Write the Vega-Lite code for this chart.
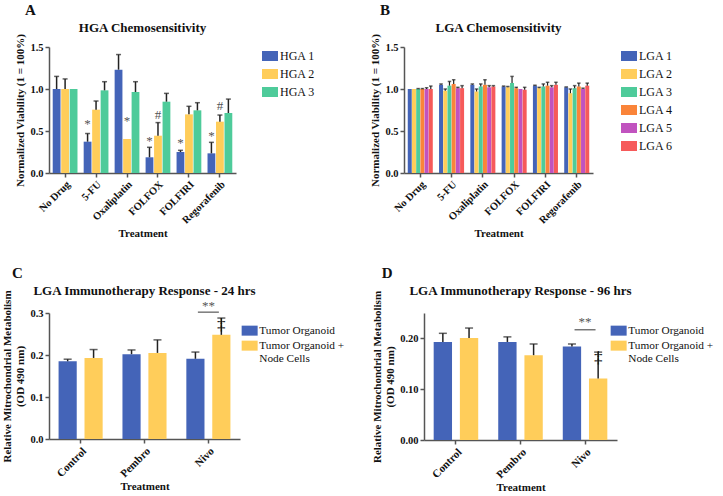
{
  "$schema": "https://vega.github.io/schema/vega-lite/v6.json",
  "padding": {"left": 1, "top": 3, "right": 0, "bottom": 0},
  "background": "white",
  "columns": 1,
  "align": "none",
  "resolve": {"scale": {"x": "independent", "y": "independent", "xOffset": "independent", "color": "independent"}, "legend": {"color": "independent"}},
  "datasets": {
    "hga": [
      {"treatment": "No Drug", "line": "HGA 1", "value": 1.0, "upper": 1.15},
      {"treatment": "No Drug", "line": "HGA 2", "value": 1.0, "upper": 1.12},
      {"treatment": "No Drug", "line": "HGA 3", "value": 1.0, "upper": 1.0},
      {"treatment": "5-FU", "line": "HGA 1", "value": 0.373, "upper": 0.47},
      {"treatment": "5-FU", "line": "HGA 2", "value": 0.754, "upper": 0.857},
      {"treatment": "5-FU", "line": "HGA 3", "value": 0.984, "upper": 1.087},
      {"treatment": "Oxaliplatin", "line": "HGA 1", "value": 1.23, "upper": 1.41},
      {"treatment": "Oxaliplatin", "line": "HGA 2", "value": 0.405, "upper": 0.405},
      {"treatment": "Oxaliplatin", "line": "HGA 3", "value": 0.964, "upper": 1.087},
      {"treatment": "FOLFOX", "line": "HGA 1", "value": 0.187, "upper": 0.306},
      {"treatment": "FOLFOX", "line": "HGA 2", "value": 0.444, "upper": 0.6},
      {"treatment": "FOLFOX", "line": "HGA 3", "value": 0.849, "upper": 0.948},
      {"treatment": "FOLFIRI", "line": "HGA 1", "value": 0.25, "upper": 0.27},
      {"treatment": "FOLFIRI", "line": "HGA 2", "value": 0.698, "upper": 0.794},
      {"treatment": "FOLFIRI", "line": "HGA 3", "value": 0.746, "upper": 0.837},
      {"treatment": "Regorafenib", "line": "HGA 1", "value": 0.234, "upper": 0.365},
      {"treatment": "Regorafenib", "line": "HGA 2", "value": 0.611, "upper": 0.69},
      {"treatment": "Regorafenib", "line": "HGA 3", "value": 0.714, "upper": 0.88}
    ],
    "hgaAnn": [
      {"treatment": "5-FU", "line": "HGA 1", "pos": 0.58, "sym": "*"},
      {"treatment": "Oxaliplatin", "line": "HGA 2", "pos": 0.615, "sym": "*"},
      {"treatment": "FOLFOX", "line": "HGA 1", "pos": 0.385, "sym": "*"},
      {"treatment": "FOLFOX", "line": "HGA 2", "pos": 0.694, "sym": "#"},
      {"treatment": "FOLFIRI", "line": "HGA 1", "pos": 0.357, "sym": "*"},
      {"treatment": "Regorafenib", "line": "HGA 1", "pos": 0.436, "sym": "*"},
      {"treatment": "Regorafenib", "line": "HGA 2", "pos": 0.8, "sym": "#"}
    ],
    "lga": [
      {"treatment": "No Drug", "line": "LGA 1", "value": 1.0, "upper": 1.0},
      {"treatment": "No Drug", "line": "LGA 2", "value": 1.0, "upper": 1.0},
      {"treatment": "No Drug", "line": "LGA 3", "value": 1.0, "upper": 1.005},
      {"treatment": "No Drug", "line": "LGA 4", "value": 1.0, "upper": 1.005},
      {"treatment": "No Drug", "line": "LGA 5", "value": 1.0, "upper": 1.015},
      {"treatment": "No Drug", "line": "LGA 6", "value": 1.0, "upper": 1.035},
      {"treatment": "5-FU", "line": "LGA 1", "value": 1.05, "upper": 1.06},
      {"treatment": "5-FU", "line": "LGA 2", "value": 0.98, "upper": 1.0},
      {"treatment": "5-FU", "line": "LGA 3", "value": 1.04, "upper": 1.09},
      {"treatment": "5-FU", "line": "LGA 4", "value": 1.06, "upper": 1.11},
      {"treatment": "5-FU", "line": "LGA 5", "value": 1.01, "upper": 1.02},
      {"treatment": "5-FU", "line": "LGA 6", "value": 1.01, "upper": 1.04},
      {"treatment": "Oxaliplatin", "line": "LGA 1", "value": 1.05, "upper": 1.06},
      {"treatment": "Oxaliplatin", "line": "LGA 2", "value": 0.97, "upper": 1.0},
      {"treatment": "Oxaliplatin", "line": "LGA 3", "value": 1.03, "upper": 1.06},
      {"treatment": "Oxaliplatin", "line": "LGA 4", "value": 1.05, "upper": 1.11},
      {"treatment": "Oxaliplatin", "line": "LGA 5", "value": 1.02, "upper": 1.04},
      {"treatment": "Oxaliplatin", "line": "LGA 6", "value": 1.03, "upper": 1.04},
      {"treatment": "FOLFOX", "line": "LGA 1", "value": 1.03, "upper": 1.035},
      {"treatment": "FOLFOX", "line": "LGA 2", "value": 1.02, "upper": 1.03},
      {"treatment": "FOLFOX", "line": "LGA 3", "value": 1.07, "upper": 1.15},
      {"treatment": "FOLFOX", "line": "LGA 4", "value": 1.01, "upper": 1.02},
      {"treatment": "FOLFOX", "line": "LGA 5", "value": 1.0, "upper": 1.0},
      {"treatment": "FOLFOX", "line": "LGA 6", "value": 0.99, "upper": 1.02},
      {"treatment": "FOLFIRI", "line": "LGA 1", "value": 1.04, "upper": 1.045},
      {"treatment": "FOLFIRI", "line": "LGA 2", "value": 1.01, "upper": 1.02},
      {"treatment": "FOLFIRI", "line": "LGA 3", "value": 1.03, "upper": 1.06},
      {"treatment": "FOLFIRI", "line": "LGA 4", "value": 1.04, "upper": 1.08},
      {"treatment": "FOLFIRI", "line": "LGA 5", "value": 1.02, "upper": 1.04},
      {"treatment": "FOLFIRI", "line": "LGA 6", "value": 1.05, "upper": 1.08},
      {"treatment": "Regorafenib", "line": "LGA 1", "value": 1.02, "upper": 1.025},
      {"treatment": "Regorafenib", "line": "LGA 2", "value": 0.95, "upper": 1.0},
      {"treatment": "Regorafenib", "line": "LGA 3", "value": 1.01, "upper": 1.04},
      {"treatment": "Regorafenib", "line": "LGA 4", "value": 1.03, "upper": 1.07},
      {"treatment": "Regorafenib", "line": "LGA 5", "value": 1.0, "upper": 1.01},
      {"treatment": "Regorafenib", "line": "LGA 6", "value": 1.04, "upper": 1.07}
    ],
    "imm24": [
      {"treatment": "Control", "group": "Tumor Organoid", "value": 0.185, "upper": 0.19},
      {"treatment": "Control", "group": "Tumor Organoid + Node Cells", "value": 0.193, "upper": 0.213},
      {"treatment": "Pembro", "group": "Tumor Organoid", "value": 0.202, "upper": 0.212},
      {"treatment": "Pembro", "group": "Tumor Organoid + Node Cells", "value": 0.205, "upper": 0.236},
      {"treatment": "Nivo", "group": "Tumor Organoid", "value": 0.191, "upper": 0.207},
      {"treatment": "Nivo", "group": "Tumor Organoid + Node Cells", "value": 0.248, "upper": 0.288}
    ],
    "imm24Ann": [
      {"treatment": "Nivo", "group": "Tumor Organoid + Node Cells", "pos": 0.271, "sym": "‡"}
    ],
    "imm24Sig": [
      {"treatment": "Nivo", "line": 0.302, "pos": 0.316, "sym": "**"}
    ],
    "imm96": [
      {"treatment": "Control", "group": "Tumor Organoid", "value": 0.193, "upper": 0.21},
      {"treatment": "Control", "group": "Tumor Organoid + Node Cells", "value": 0.2007, "upper": 0.2204},
      {"treatment": "Pembro", "group": "Tumor Organoid", "value": 0.193, "upper": 0.203},
      {"treatment": "Pembro", "group": "Tumor Organoid + Node Cells", "value": 0.167, "upper": 0.189},
      {"treatment": "Nivo", "group": "Tumor Organoid", "value": 0.184, "upper": 0.189},
      {"treatment": "Nivo", "group": "Tumor Organoid + Node Cells", "value": 0.121, "upper": 0.173}
    ],
    "imm96Ann": [
      {"treatment": "Nivo", "group": "Tumor Organoid + Node Cells", "pos": 0.161, "sym": "‡"}
    ],
    "imm96Sig": [
      {"treatment": "Nivo", "line": 0.217, "pos": 0.232, "sym": "**"}
    ]
  },
  "config": {
    "font": "Liberation Serif",
    "view": {"stroke": null},
    "title": {"font": "Liberation Serif", "fontSize": 13, "fontWeight": "bold", "color": "#111", "offset": 5},
    "axis": {
      "labelFont": "Liberation Serif", "labelFontWeight": "bold", "labelFontSize": 10.5, "labelColor": "#111",
      "titleFont": "Liberation Serif", "titleFontWeight": "bold", "titleFontSize": 11, "titleColor": "#111",
      "domainColor": "#555", "domainWidth": 1.5, "tickColor": "#555", "tickWidth": 1.5, "tickSize": 4,
      "grid": false, "labelPadding": 2
    },
    "axisX": {"labelAngle": -45, "titlePadding": 2},
    "axisY": {"titlePadding": 4},
    "legend": {
      "labelFont": "Liberation Serif", "labelFontSize": 12, "labelColor": "#111",
      "symbolStrokeWidth": 0, "symbolSize": 100, "rowPadding": 6, "padding": 0
    }
  },
  "concat": [
    {
      "resolve": {"scale": {"x": "independent", "y": "independent", "xOffset": "independent", "color": "independent"}, "legend": {"color": "independent"}},
      "hconcat": [
        {
          "title": {"text": "A", "anchor": "start", "fontSize": 15, "dx": 10, "offset": 4},
          "vconcat": [
            {
              "width": 187, "height": 126,
              "title": {"text": "HGA Chemosensitivity", "offset": -2},
              "layer": [
                {
                  "data": {"name": "hga"},
                  "mark": {"type": "bar"},
                  "encoding": {
                    "x": {"field": "treatment", "type": "nominal", "sort": ["No Drug", "5-FU", "Oxaliplatin", "FOLFOX", "FOLFIRI", "Regorafenib"], "scale": {"paddingInner": 0.2, "paddingOuter": 0.12}, "title": "Treatment"},
                    "xOffset": {"field": "line", "type": "nominal", "sort": ["HGA 1", "HGA 2", "HGA 3"], "scale": {"paddingInner": 0.08}},
                    "y": {"field": "value", "type": "quantitative", "title": "Normalized Viability (1 = 100%)", "scale": {"domain": [0, 1.5], "nice": false}, "axis": {"values": [0, 0.5, 1, 1.5], "format": ".1f"}},
                    "color": {"field": "line", "type": "nominal", "scale": {"domain": ["HGA 1", "HGA 2", "HGA 3"], "range": ["#4464B8", "#FFCD5A", "#4ECB9A"]}, "legend": {"title": null, "symbolType": "M-1.6,-1H1.6V1H-1.6Z", "offset": 25, "padding": 3, "labelFontSize": 12}}
                  }
                },
                {
                  "data": {"name": "hga"},
                  "transform": [{"filter": "datum.upper > datum.value"}],
                  "mark": {"type": "rule", "color": "#222", "strokeWidth": 1.5},
                  "encoding": {
                    "x": {"field": "treatment", "type": "nominal", "sort": ["No Drug", "5-FU", "Oxaliplatin", "FOLFOX", "FOLFIRI", "Regorafenib"], "title": "Treatment"},
                    "xOffset": {"field": "line", "type": "nominal", "sort": ["HGA 1", "HGA 2", "HGA 3"]},
                    "y": {"field": "value", "type": "quantitative", "title": "Normalized Viability (1 = 100%)"},
                    "y2": {"field": "upper"}
                  }
                },
                {
                  "data": {"name": "hga"},
                  "transform": [{"filter": "datum.upper > datum.value"}],
                  "mark": {"type": "tick", "color": "#222", "thickness": 1.5, "size": 5},
                  "encoding": {
                    "x": {"field": "treatment", "type": "nominal", "sort": ["No Drug", "5-FU", "Oxaliplatin", "FOLFOX", "FOLFIRI", "Regorafenib"], "title": "Treatment"},
                    "xOffset": {"field": "line", "type": "nominal", "sort": ["HGA 1", "HGA 2", "HGA 3"]},
                    "y": {"field": "upper", "type": "quantitative", "title": "Normalized Viability (1 = 100%)"}
                  }
                },
                {
                  "data": {"name": "hgaAnn"},
                  "mark": {"type": "text", "color": "#555", "fontSize": 13, "baseline": "middle", "font": "Liberation Serif"},
                  "encoding": {
                    "x": {"field": "treatment", "type": "nominal", "sort": ["No Drug", "5-FU", "Oxaliplatin", "FOLFOX", "FOLFIRI", "Regorafenib"], "title": "Treatment"},
                    "xOffset": {"field": "line", "type": "nominal", "sort": ["HGA 1", "HGA 2", "HGA 3"]},
                    "y": {"field": "pos", "type": "quantitative", "title": "Normalized Viability (1 = 100%)"},
                    "text": {"field": "sym"}
                  }
                }
              ]
            }
          ]
        },
        {
          "title": {"text": "B", "anchor": "start", "fontSize": 15, "dx": 10, "offset": 4},
          "vconcat": [
            {
              "width": 189, "height": 126,
              "title": {"text": "LGA Chemosensitivity", "offset": -2},
              "layer": [
                {
                  "data": {"name": "lga"},
                  "mark": {"type": "bar"},
                  "encoding": {
                    "x": {"field": "treatment", "type": "nominal", "sort": ["No Drug", "5-FU", "Oxaliplatin", "FOLFOX", "FOLFIRI", "Regorafenib"], "scale": {"paddingInner": 0.2, "paddingOuter": 0.12}, "title": "Treatment"},
                    "xOffset": {"field": "line", "type": "nominal", "sort": ["LGA 1", "LGA 2", "LGA 3", "LGA 4", "LGA 5", "LGA 6"], "scale": {"paddingInner": 0.05}},
                    "y": {"field": "value", "type": "quantitative", "title": "Normalized Viability (1 = 100%)", "scale": {"domain": [0, 1.5], "nice": false}, "axis": {"values": [0, 0.5, 1, 1.5], "format": ".1f"}},
                    "color": {"field": "line", "type": "nominal", "scale": {"domain": ["LGA 1", "LGA 2", "LGA 3", "LGA 4", "LGA 5", "LGA 6"], "range": ["#4464B8", "#FFCD5A", "#4ECB9A", "#FA8439", "#C153BF", "#F65A5A"]}, "legend": {"title": null, "symbolType": "M-1.6,-1H1.6V1H-1.6Z", "offset": 27, "padding": 3, "labelFontSize": 12}}
                  }
                },
                {
                  "data": {"name": "lga"},
                  "transform": [{"filter": "datum.upper > datum.value"}],
                  "mark": {"type": "rule", "color": "#222", "strokeWidth": 1.2},
                  "encoding": {
                    "x": {"field": "treatment", "type": "nominal", "sort": ["No Drug", "5-FU", "Oxaliplatin", "FOLFOX", "FOLFIRI", "Regorafenib"], "title": "Treatment"},
                    "xOffset": {"field": "line", "type": "nominal", "sort": ["LGA 1", "LGA 2", "LGA 3", "LGA 4", "LGA 5", "LGA 6"]},
                    "y": {"field": "value", "type": "quantitative", "title": "Normalized Viability (1 = 100%)"},
                    "y2": {"field": "upper"}
                  }
                },
                {
                  "data": {"name": "lga"},
                  "transform": [{"filter": "datum.upper > datum.value"}],
                  "mark": {"type": "tick", "color": "#222", "thickness": 1.5, "size": 3.5},
                  "encoding": {
                    "x": {"field": "treatment", "type": "nominal", "sort": ["No Drug", "5-FU", "Oxaliplatin", "FOLFOX", "FOLFIRI", "Regorafenib"], "title": "Treatment"},
                    "xOffset": {"field": "line", "type": "nominal", "sort": ["LGA 1", "LGA 2", "LGA 3", "LGA 4", "LGA 5", "LGA 6"]},
                    "y": {"field": "upper", "type": "quantitative", "title": "Normalized Viability (1 = 100%)"}
                  }
                }
              ]
            }
          ]
        }
      ],
      "spacing": 51
    },
    {
      "resolve": {"scale": {"x": "independent", "y": "independent", "xOffset": "independent", "color": "independent"}, "legend": {"color": "independent"}},
      "hconcat": [
        {
          "title": {"text": "C", "anchor": "start", "fontSize": 15, "dx": 10, "offset": 4},
          "vconcat": [
            {
              "width": 191, "height": 126,
              "title": {"text": "LGA Immunotherapy Response - 24 hrs", "offset": -8},
              "layer": [
                {
                  "data": {"name": "imm24"},
                  "mark": {"type": "bar"},
                  "encoding": {
                    "x": {"field": "treatment", "type": "nominal", "sort": ["Control", "Pembro", "Nivo"], "scale": {"paddingInner": 0.31, "paddingOuter": 0.15}, "title": "Treatment", "axis": {"labelFontSize": 11, "titlePadding": 2}},
                    "xOffset": {"field": "group", "type": "nominal", "sort": ["Tumor Organoid", "Tumor Organoid + Node Cells"], "scale": {"paddingInner": 0.3}},
                    "y": {"field": "value", "type": "quantitative", "title": ["Relative Mitrochondrial Metabolism", "(OD 490 nm)"], "scale": {"domain": [0, 0.3], "nice": false}, "axis": {"values": [0, 0.1, 0.2, 0.3], "format": ".1f"}},
                    "color": {"field": "group", "type": "nominal", "scale": {"domain": ["Tumor Organoid", "Tumor Organoid + Node Cells"], "range": ["#4464B8", "#FFCD5A"]}, "legend": {"title": null, "symbolType": "M-1.6,-1H1.6V1H-1.6Z", "offset": -24, "padding": 12, "rowPadding": 3, "labelFontSize": 11.3, "labelExpr": "datum.label == 'Tumor Organoid + Node Cells' ? ['Tumor Organoid +', 'Node Cells'] : datum.label"}}
                  }
                },
                {
                  "data": {"name": "imm24"},
                  "mark": {"type": "rule", "color": "#222", "strokeWidth": 1.5},
                  "encoding": {
                    "x": {"field": "treatment", "type": "nominal", "sort": ["Control", "Pembro", "Nivo"], "title": "Treatment"},
                    "xOffset": {"field": "group", "type": "nominal", "sort": ["Tumor Organoid", "Tumor Organoid + Node Cells"]},
                    "y": {"field": "value", "type": "quantitative", "title": ["Relative Mitrochondrial Metabolism", "(OD 490 nm)"]},
                    "y2": {"field": "upper"}
                  }
                },
                {
                  "data": {"name": "imm24"},
                  "mark": {"type": "tick", "color": "#222", "thickness": 1.5, "size": 8},
                  "encoding": {
                    "x": {"field": "treatment", "type": "nominal", "sort": ["Control", "Pembro", "Nivo"], "title": "Treatment"},
                    "xOffset": {"field": "group", "type": "nominal", "sort": ["Tumor Organoid", "Tumor Organoid + Node Cells"]},
                    "y": {"field": "upper", "type": "quantitative", "title": ["Relative Mitrochondrial Metabolism", "(OD 490 nm)"]}
                  }
                },
                {
                  "data": {"name": "imm24Ann"},
                  "mark": {"type": "text", "color": "#111", "fontSize": 17, "baseline": "middle", "font": "Liberation Serif"},
                  "encoding": {
                    "x": {"field": "treatment", "type": "nominal", "sort": ["Control", "Pembro", "Nivo"], "title": "Treatment"},
                    "xOffset": {"field": "group", "type": "nominal", "sort": ["Tumor Organoid", "Tumor Organoid + Node Cells"]},
                    "y": {"field": "pos", "type": "quantitative", "title": ["Relative Mitrochondrial Metabolism", "(OD 490 nm)"]},
                    "text": {"field": "sym"}
                  }
                },
                {
                  "data": {"name": "imm24Sig"},
                  "mark": {"type": "tick", "color": "#222", "thickness": 1.3, "size": 21},
                  "encoding": {
                    "x": {"field": "treatment", "type": "nominal", "sort": ["Control", "Pembro", "Nivo"], "title": "Treatment"},
                    "y": {"field": "line", "type": "quantitative", "title": ["Relative Mitrochondrial Metabolism", "(OD 490 nm)"]}
                  }
                },
                {
                  "data": {"name": "imm24Sig"},
                  "mark": {"type": "text", "color": "#555", "fontSize": 13, "baseline": "middle", "font": "Liberation Serif"},
                  "encoding": {
                    "x": {"field": "treatment", "type": "nominal", "sort": ["Control", "Pembro", "Nivo"], "title": "Treatment"},
                    "y": {"field": "pos", "type": "quantitative", "title": ["Relative Mitrochondrial Metabolism", "(OD 490 nm)"]},
                    "text": {"field": "sym"}
                  }
                }
              ]
            }
          ]
        },
        {
          "title": {"text": "D", "anchor": "start", "fontSize": 15, "dx": 10, "offset": 4},
          "vconcat": [
            {
              "width": 193, "height": 127,
              "title": {"text": "LGA Immunotherapy Response - 96 hrs", "offset": -8},
              "layer": [
                {
                  "data": {"name": "imm96"},
                  "mark": {"type": "bar"},
                  "encoding": {
                    "x": {"field": "treatment", "type": "nominal", "sort": ["Control", "Pembro", "Nivo"], "scale": {"paddingInner": 0.31, "paddingOuter": 0.15}, "title": "Treatment", "axis": {"labelFontSize": 11, "titlePadding": 2}},
                    "xOffset": {"field": "group", "type": "nominal", "sort": ["Tumor Organoid", "Tumor Organoid + Node Cells"], "scale": {"paddingInner": 0.3}},
                    "y": {"field": "value", "type": "quantitative", "title": ["Relative Mitrochondrial Metabolism", "(OD 490 nm)"], "scale": {"domain": [0, 0.25], "nice": false}, "axis": {"values": [0, 0.05, 0.1, 0.15, 0.2, 0.25], "format": ".2f"}},
                    "color": {"field": "group", "type": "nominal", "scale": {"domain": ["Tumor Organoid", "Tumor Organoid + Node Cells"], "range": ["#4464B8", "#FFCD5A"]}, "legend": {"title": null, "symbolType": "M-1.6,-1H1.6V1H-1.6Z", "offset": -31, "padding": 12, "rowPadding": 3, "labelFontSize": 11.3, "labelExpr": "datum.label == 'Tumor Organoid + Node Cells' ? ['Tumor Organoid +', 'Node Cells'] : datum.label"}}
                  }
                },
                {
                  "data": {"name": "imm96"},
                  "mark": {"type": "rule", "color": "#222", "strokeWidth": 1.5},
                  "encoding": {
                    "x": {"field": "treatment", "type": "nominal", "sort": ["Control", "Pembro", "Nivo"], "title": "Treatment"},
                    "xOffset": {"field": "group", "type": "nominal", "sort": ["Tumor Organoid", "Tumor Organoid + Node Cells"]},
                    "y": {"field": "value", "type": "quantitative", "title": ["Relative Mitrochondrial Metabolism", "(OD 490 nm)"]},
                    "y2": {"field": "upper"}
                  }
                },
                {
                  "data": {"name": "imm96"},
                  "mark": {"type": "tick", "color": "#222", "thickness": 1.5, "size": 8},
                  "encoding": {
                    "x": {"field": "treatment", "type": "nominal", "sort": ["Control", "Pembro", "Nivo"], "title": "Treatment"},
                    "xOffset": {"field": "group", "type": "nominal", "sort": ["Tumor Organoid", "Tumor Organoid + Node Cells"]},
                    "y": {"field": "upper", "type": "quantitative", "title": ["Relative Mitrochondrial Metabolism", "(OD 490 nm)"]}
                  }
                },
                {
                  "data": {"name": "imm96Ann"},
                  "mark": {"type": "text", "color": "#111", "fontSize": 17, "baseline": "middle", "font": "Liberation Serif"},
                  "encoding": {
                    "x": {"field": "treatment", "type": "nominal", "sort": ["Control", "Pembro", "Nivo"], "title": "Treatment"},
                    "xOffset": {"field": "group", "type": "nominal", "sort": ["Tumor Organoid", "Tumor Organoid + Node Cells"]},
                    "y": {"field": "pos", "type": "quantitative", "title": ["Relative Mitrochondrial Metabolism", "(OD 490 nm)"]},
                    "text": {"field": "sym"}
                  }
                },
                {
                  "data": {"name": "imm96Sig"},
                  "mark": {"type": "tick", "color": "#222", "thickness": 1.3, "size": 21},
                  "encoding": {
                    "x": {"field": "treatment", "type": "nominal", "sort": ["Control", "Pembro", "Nivo"], "title": "Treatment"},
                    "y": {"field": "line", "type": "quantitative", "title": ["Relative Mitrochondrial Metabolism", "(OD 490 nm)"]}
                  }
                },
                {
                  "data": {"name": "imm96Sig"},
                  "mark": {"type": "text", "color": "#555", "fontSize": 13, "baseline": "middle", "font": "Liberation Serif"},
                  "encoding": {
                    "x": {"field": "treatment", "type": "nominal", "sort": ["Control", "Pembro", "Nivo"], "title": "Treatment"},
                    "y": {"field": "pos", "type": "quantitative", "title": ["Relative Mitrochondrial Metabolism", "(OD 490 nm)"]},
                    "text": {"field": "sym"}
                  }
                }
              ]
            }
          ]
        }
      ],
      "spacing": 14
    }
  ],
  "spacing": 26
}
